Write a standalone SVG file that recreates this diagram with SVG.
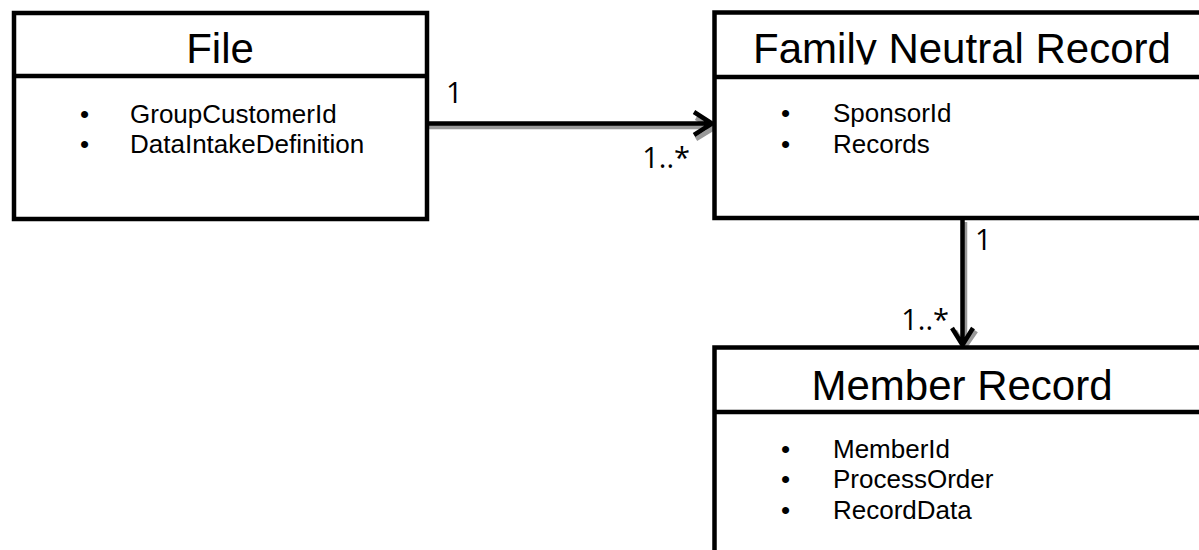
<svg xmlns="http://www.w3.org/2000/svg" width="1199" height="550" viewBox="0 0 1199 550">
<style>
.box{fill:#fff;stroke:#000;stroke-width:4.5}
.div{stroke:#000;stroke-width:4.5}
.title{font-family:"Liberation Sans",Arial,sans-serif;font-size:42px;fill:#000;text-anchor:middle}
.attr{font-family:"Liberation Sans",Arial,sans-serif;font-size:26px;fill:#000}
.lbl{font-family:"Open Sans","Liberation Sans",sans-serif;font-size:29px;fill:#000}
.conn{fill:none;stroke:#000;stroke-width:4.5}
.shadow{fill:none;stroke:#999;stroke-width:4.5}
</style>
<defs>
<clipPath id="hdr1"><rect x="714" y="14" width="485" height="50.5"/></clipPath>
</defs>
<g id="connectors">
<path class="shadow" d="M428,127 L712,127 M696,118 L714,128 L696,139"/>
<path class="conn" d="M428,123.5 L712,123.5 M694,112 L712,123.5 L694,135"/>
<path class="shadow" d="M965,222 L965,344 M955,331 L965,347 L976,331"/>
<path class="conn" d="M962.5,220 L962.5,343 M952,328 L962.5,345 L973,328"/>
<text class="lbl" x="446" y="103">1</text>
<text class="lbl" x="690" y="168" text-anchor="end">1..*</text>
<text class="lbl" x="975" y="250">1</text>
<text class="lbl" x="949" y="330" text-anchor="end">1..*</text>
</g>
<g id="file">
<rect class="box" x="14" y="13" width="413" height="206"/>
<line class="div" x1="14" y1="76" x2="427" y2="76"/>
<text class="title" x="220" y="63">File</text>
<text class="attr" x="80" y="123">•</text>
<text class="attr" x="130" y="123">GroupCustomerId</text>
<text class="attr" x="80" y="153">•</text>
<text class="attr" x="130" y="153">DataIntakeDefinition</text>
</g>
<g id="family-neutral-record">
<rect class="box" x="714.5" y="12.5" width="500" height="205.5"/>
<line class="div" x1="714.5" y1="77" x2="1214" y2="77"/>
<text class="title" x="962" y="63" clip-path="url(#hdr1)">Family Neutral Record</text>
<text class="attr" x="781" y="122">•</text>
<text class="attr" x="833" y="122">SponsorId</text>
<text class="attr" x="781" y="153">•</text>
<text class="attr" x="833" y="153">Records</text>
</g>
<g id="member-record">
<rect class="box" x="714.5" y="347.5" width="500" height="230"/>
<line class="div" x1="714.5" y1="412" x2="1214" y2="412"/>
<text class="title" x="962" y="400">Member Record</text>
<text class="attr" x="781" y="458">•</text>
<text class="attr" x="833" y="458">MemberId</text>
<text class="attr" x="781" y="488">•</text>
<text class="attr" x="833" y="488">ProcessOrder</text>
<text class="attr" x="781" y="519">•</text>
<text class="attr" x="833" y="519">RecordData</text>
</g>
</svg>
